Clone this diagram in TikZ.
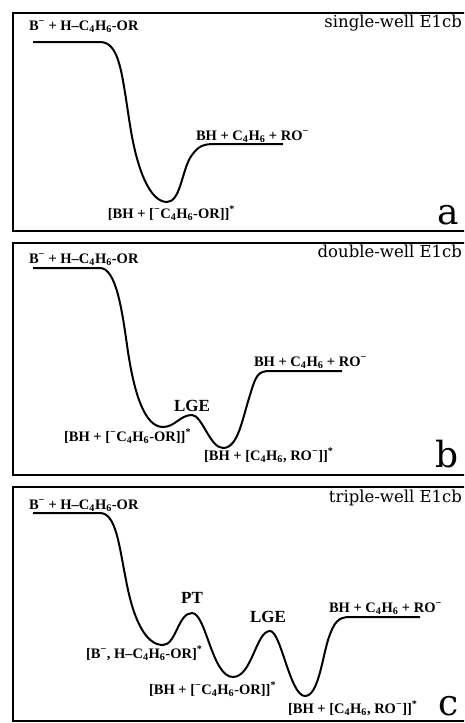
\documentclass[tikz,border=0pt]{standalone}
\usepackage{fontspec}
\setmainfont{Liberation Serif}
\newfontfamily\ttlfont{DejaVu Serif}
\newcommand\chg{\textsuperscript{−}}
\newcommand\dn[1]{\textsubscript{#1}}
\newcommand\cpx{\textsuperscript{*}}

\begin{document}
\begin{tikzpicture}[x=1pt, y=-1pt, line width=2pt,
	state/.style={font=\bfseries\fontsize{14.5}{16}\selectfont, inner sep=0pt, anchor=base west},
	barrier/.style={font=\bfseries\fontsize{17}{19}\selectfont, inner sep=0pt, anchor=base},
	ttl/.style={font=\ttlfont\fontsize{16.5}{18}\selectfont, inner sep=0pt, anchor=base east},
	tag/.style={font=\ttlfont\fontsize{36}{40}\selectfont, inner sep=0pt, text depth=0pt, anchor=base east}]
	\useasboundingbox (0,0) rectangle (464,723);
	\clip (0,0) rectangle (464,723);
	\foreach \t/\b in {13/231, 243/475, 487/721}
		\draw (13,\t) rectangle (480,\b);

	% single well
	\node[ttl] (aT) at (463,27) {single-well E1cb};
	\node[state] (aR) at (28,30) {B\chg{} + H–C\dn{4}H\dn{6}-OR};
	\node[state] (aP) at (195,140) {BH + C\dn{4}H\dn{6} + RO\chg};
	\node[state, anchor=base east] (aI) at (236,218) {[BH + [\chg C\dn{4}H\dn{6}-OR]]\cpx};
	\node[tag] (aL) at (460,224) {a};
	\draw (33,42) -- (100,42) .. controls (120,42) and (122,75) .. (130,125)
		.. controls (137,170) and (150,202) .. (167,202)
		.. controls (180,202) and (182,172) .. (190,158)
		.. controls (197,147) and (202,144) .. (214,144) -- (283,144);

	% double well
	\node[ttl] (bT) at (463,257) {double-well E1cb};
	\node[state] (bR) at (28,263) {B\chg{} + H–C\dn{4}H\dn{6}-OR};
	\node[state] (bP) at (253,366) {BH + C\dn{4}H\dn{6} + RO\chg};
	\node[barrier] (bB) at (192,411) {LGE};
	\node[state] (bI) at (63,441) {[BH + [\chg C\dn{4}H\dn{6}-OR]]\cpx};
	\node[state] (bJ) at (203,460) {[BH + [C\dn{4}H\dn{6}, RO\chg]]\cpx};
	\node[tag] (bL) at (460,467) {b};
	\draw (33,268) -- (100,268) .. controls (116,268) and (122,310) .. (127,345)
		.. controls (134,395) and (145,427) .. (163,427)
		.. controls (175,427) and (180,415) .. (192,415)
		.. controls (202,415) and (210,448) .. (223,448)
		.. controls (238,448) and (242,420) .. (250,395)
		.. controls (256,375) and (258,371) .. (270,371) -- (342,371);

	% triple well
	\node[ttl] (cT) at (463,502) {triple-well E1cb};
	\node[state] (cR) at (28,509) {B\chg{} + H–C\dn{4}H\dn{6}-OR};
	\node[state] (cP) at (328,612) {BH + C\dn{4}H\dn{6} + RO\chg};
	\node[barrier] (cB) at (192,603) {PT};
	\node[barrier] (cC) at (268,622) {LGE};
	\node[state] (cH) at (85,658) {[B\chg, H–C\dn{4}H\dn{6}-OR]\cpx};
	\node[state] (cI) at (148,694) {[BH + [\chg C\dn{4}H\dn{6}-OR]]\cpx};
	\node[state] (cJ) at (287,713) {[BH + [C\dn{4}H\dn{6}, RO\chg]]\cpx};
	\node[tag] (cL) at (460,715) {c};
	\draw (33,513) -- (100,513) .. controls (116,513) and (119,545) .. (126,580)
		.. controls (133,618) and (145,645) .. (163,645)
		.. controls (176,645) and (178,613) .. (192,613)
		.. controls (206,613) and (212,677) .. (233,677)
		.. controls (252,677) and (256,631) .. (270,631)
		.. controls (281,631) and (290,696) .. (305,696)
		.. controls (318,696) and (322,660) .. (328,640)
		.. controls (334,622) and (338,617) .. (350,617) -- (420,617);
\end{tikzpicture}
\end{document}
